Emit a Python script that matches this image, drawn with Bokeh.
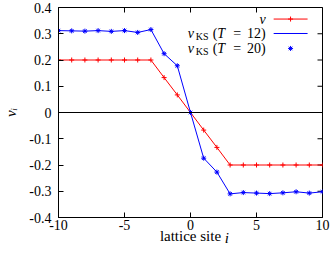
from bokeh.plotting import figure
from bokeh.models import Span, Label, FixedTicker, Range1d, LinearAxis
from bokeh.embed import file_html
from bokeh.resources import INLINE

# ---- data ----
sites = [-10, -9, -8, -7, -6, -5, -4, -3, -2, -1, 0, 1, 2, 3, 4, 5, 6, 7, 8, 9, 10]
v_target = [0.2, 0.2, 0.2, 0.2, 0.2, 0.2, 0.2, 0.2, 0.133, 0.067, 0.0,
            -0.067, -0.133, -0.2, -0.2, -0.2, -0.2, -0.2, -0.2, -0.2, -0.2]
v_ks_t12 = [0.312, 0.311, 0.310, 0.312, 0.309, 0.312, 0.305, 0.316, 0.224, 0.178, 0.0,
            -0.174, -0.227, -0.310, -0.305, -0.307, -0.309, -0.306, -0.302, -0.307, -0.302]
v_ks_t20 = [0.312, 0.311, 0.310, 0.312, 0.309, 0.312, 0.305, 0.316, 0.224, 0.178, 0.0,
            -0.174, -0.227, -0.310, -0.305, -0.307, -0.309, -0.306, -0.302, -0.307, -0.302]
x_ticks = [-10, -5, 0, 5, 10]
x_tick_labels = ["-10", "-5", "0", "5", "10"]
y_ticks = [-0.4, -0.3, -0.2, -0.1, 0.0, 0.1, 0.2, 0.3, 0.4]
y_tick_labels = ["-0.4", "-0.3", "-0.2", "-0.1", "0", "0.1", "0.2", "0.3", "0.4"]
x_label = "lattice site"
x_label_var = "i"
y_label = "v\u1d62"

FONT = "Liberation Serif"
RED = "#ff0000"
BLUE = "#0000ff"
X_LO, X_HI = -10, 10
Y_LO, Y_HI = -0.4, 0.4

p = figure(width=332, height=253, x_range=Range1d(X_LO, X_HI), y_range=Range1d(Y_LO, Y_HI),
           output_backend="svg", toolbar_location=None,
           min_border_left=57, min_border_right=10, min_border_top=7, min_border_bottom=36)
p.grid.visible = False
p.outline_line_color = "black"
p.outline_line_width = 1
p.background_fill_color = "white"
p.border_fill_color = "white"


def style_axis(ax, ticks, labels, standoff):
    ax.ticker = FixedTicker(ticks=ticks)
    ax.major_label_overrides = {t: l for t, l in zip(ticks, labels)}
    ax.major_tick_in = 5
    ax.major_tick_out = 0
    ax.minor_tick_line_color = None
    ax.major_tick_line_color = "black"
    ax.axis_line_color = "black"
    ax.major_label_text_font = FONT
    ax.major_label_text_color = "black"
    ax.major_label_standoff = standoff
    ax.major_label_text_font_size = "14px"
    ax.axis_label_text_font = FONT
    ax.axis_label_text_font_size = "15px"
    ax.axis_label_text_color = "black"


xa = p.xaxis[0]
style_axis(xa, x_ticks, x_tick_labels, 2)
xa.axis_label = x_label
xa.axis_label_standoff = -5
xa.axis_label_text_font_style = "normal"

ya = p.yaxis[0]
style_axis(ya, y_ticks, y_tick_labels, 7)
ya.axis_label = y_label
ya.axis_label_standoff = 7
ya.axis_label_text_font_style = "italic"

# italic variable "i" of the x label, on its own label-only axis pulled up beside "lattice site"
var_pos = 2.75
var_axis = LinearAxis(ticker=FixedTicker(ticks=[var_pos]),
                      major_label_overrides={var_pos: x_label_var},
                      major_tick_in=0, major_tick_out=0, axis_line_color=None,
                      major_tick_line_color=None, minor_tick_line_color=None,
                      major_label_text_font=FONT, major_label_text_font_size="15px",
                      major_label_text_font_style="italic", major_label_text_color="black",
                      major_label_standoff=-17)
p.add_layout(var_axis, "below")

# mirror ticks on top and right edges (half of each dash is clipped by the frame)
p.scatter(x_ticks, [Y_HI] * len(x_ticks), marker="dash", size=10, angle=1.5708,
          line_color="black", line_width=1)
p.scatter([X_HI] * len(y_ticks), y_ticks, marker="dash", size=10,
          line_color="black", line_width=1)

p.add_layout(Span(location=0, dimension="width", line_color="black", line_width=1))

# ---- series ----
p.line(sites, v_target, line_color=RED, line_width=1)
p.scatter(sites, v_target, marker="cross", size=5, line_color=RED, line_width=1)
p.line(sites, v_ks_t12, line_color=BLUE, line_width=1)
p.scatter(sites, v_ks_t20, marker="asterisk", size=5, line_color=BLUE, line_width=1)

# ---- legend (gnuplot style: text left of sample) ----
leg_text_x = 5.7
leg_x0, leg_x1, leg_xm = 6.3, 8.87, 7.58
rows = [0.356, 0.301, 0.244]


def lab(text, x, y, dx=0, dy=0, size="14px", style="normal", align="left"):
    p.add_layout(Label(x=x, y=y, x_offset=dx, y_offset=dy, text=text, text_font=FONT,
                       text_font_size=size, text_font_style=style, text_align=align,
                       text_baseline="middle", text_color="black"))


lab("v", leg_text_x, rows[0], 0, 0, style="italic", align="right")
for r, tval in ((rows[1], "12)"), (rows[2], "20)")):
    lab("v", leg_text_x, r, -78, 0, style="italic")
    lab("KS", leg_text_x, r, -70, -3, size="10px")
    lab("(", leg_text_x, r, -53, 0)
    lab("T", leg_text_x, r, -44.5, 0, style="italic", align="center")
    lab("=", leg_text_x, r, -28.5, 0, align="center")
    lab(tval, leg_text_x, r, 0, 0, align="right")

p.line([leg_x0, leg_x1], [rows[0], rows[0]], line_color=RED, line_width=1)
p.scatter([leg_xm], [rows[0]], marker="cross", size=5, line_color=RED)
p.line([leg_x0, leg_x1], [rows[1], rows[1]], line_color=BLUE, line_width=1)
p.scatter([leg_xm], [rows[2]], marker="asterisk", size=5, line_color=BLUE)

open("out.html", "w").write(file_html(p, INLINE))
